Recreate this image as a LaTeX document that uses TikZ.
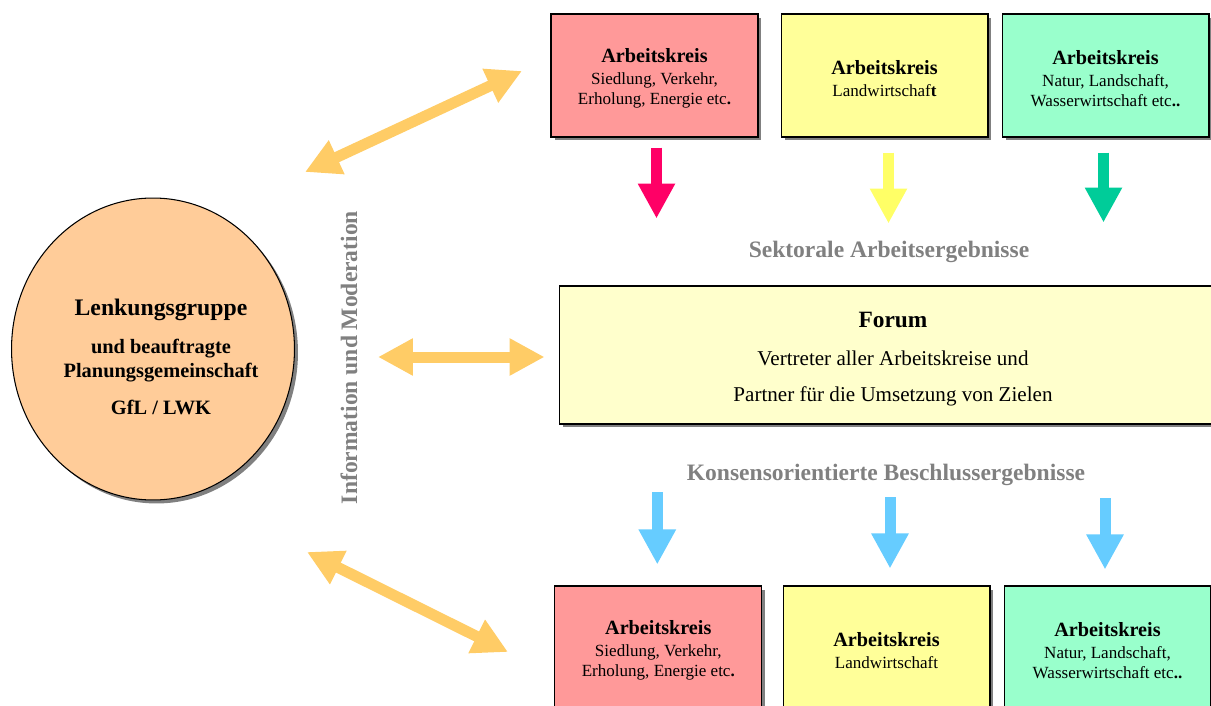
\documentclass[tikz,border=0pt]{standalone}
\usepackage{fontspec}
\setmainfont{Liberation Serif}
\usetikzlibrary{arrows.meta, calc, shadows, shapes.geometric}
\definecolor{akrot}{HTML}{FF9999}
\definecolor{akgelb}{HTML}{FFFF99}
\definecolor{akgruen}{HTML}{99FFCC}
\definecolor{forumgelb}{HTML}{FFFFCC}
\definecolor{lgorange}{HTML}{FFCC99}
\definecolor{pfeilorange}{HTML}{FFCC66}
\definecolor{pfeilrot}{HTML}{FF0066}
\definecolor{pfeilgelb}{HTML}{FFFF66}
\definecolor{pfeilgruen}{HTML}{00CC99}
\definecolor{pfeilblau}{HTML}{66CCFF}
\definecolor{schatten}{HTML}{808080}
\definecolor{textgrau}{HTML}{808080}
\tikzset{schattig/.style = {drop shadow={shadow xshift=0.07cm, shadow yshift=-0.07cm, fill=schatten, opacity=1}}}
\tikzset{akbox/.style = {draw, semithick, schattig, minimum width=4.14cm, minimum height=2.46cm, inner sep=0pt}}
\tikzset{aktext/.style = {align=center, inner sep=0pt, font=\fontsize{9.7}{11.3}\selectfont}}
\tikzset{fett pfeil/.style = {line width=0.22cm, -{Triangle[length=0.7cm, width=0.7cm]}}}
\tikzset{doppel pfeil/.style = {line width=0.22cm, pfeilorange, {Triangle[length=0.7cm, width=0.7cm]}-{Triangle[length=0.7cm, width=0.7cm]}}}
\tikzset{grautext/.style = {textgrau, font=\fontsize{13.4}{16}\selectfont\bfseries}}
\newcommand{\akkopf}[1]{{\fontsize{11.5}{13}\selectfont\bfseries #1}}

\begin{document}
\begin{tikzpicture}[x=0.02cm, y=-0.02cm]
	\useasboundingbox (0,0) rectangle (1211,706);

	% Lenkungsgruppe
	\node[ellipse, draw, semithick, fill=lgorange, schattig, minimum width=5.66cm, minimum height=6.04cm] (lg) at (153,349) {};
	\node[align=center, font=\fontsize{11.6}{14.2}\selectfont\bfseries] (lgtext) at ($(lg)+(8,8)$)
		{{\fontsize{13.5}{16}\selectfont Lenkungsgruppe}\\[7.3pt] und beauftragte\\ Planungsgemeinschaft\\[6.8pt] GfL / LWK};
	\node[grautext, rotate=90] (infomod) at (349,357.5) {Information und Moderation};

	% Arbeitskreise oben
	\node[akbox, fill=akrot] (ak1o) at (654.5,75.5) {};
	\node[akbox, fill=akgelb] (ak2o) at (884.5,75.5) {};
	\node[akbox, fill=akgruen] (ak3o) at (1105.5,75.5) {};
	\node[aktext] (ak1o-t) at ($(ak1o)+(0,3)$) {\akkopf{Arbeitskreis}\\[1.2pt] Siedlung, Verkehr,\\ Erholung, Energie etc\textbf{.}};
	\node[aktext] (ak2o-t) at ($(ak2o)+(0,3)$) {\akkopf{Arbeitskreis}\\[1.2pt] Landwirtschaf\textbf{t}};
	\node[aktext] (ak3o-t) at ($(ak3o)+(0,3)$) {\akkopf{Arbeitskreis}\\[1.2pt] Natur, Landschaft,\\ Wasserwirtschaft etc\textbf{..}};

	\draw[fett pfeil, pfeilrot]	($(ak1o.south)+(2,10)$) --++ (0,71);
	\draw[fett pfeil, pfeilgelb]	($(ak2o.south)+(4,15)$) --++ (0,71);
	\draw[fett pfeil, pfeilgruen]	($(ak3o.south)+(-2,15)$) --++ (0,70);

	\node[grautext, anchor=base] (sektoral) at (889,257.5) {Sektorale Arbeitsergebnisse};

	% Forum
	\node[draw, semithick, fill=forumgelb, schattig, minimum width=13.36cm, minimum height=2.76cm] (forum) at (893,355) {};
	\node[align=center, font=\fontsize{12}{20.4}\selectfont] (forum-t) at ($(forum)+(0,4)$)
		{{\fontsize{13.3}{16}\selectfont\bfseries Forum}\\[1.1pt] Vertreter aller Arbeitskreise und\\ Partner für die Umsetzung von Zielen};

	\node[grautext, anchor=base] (konsens) at (886,480.5) {Konsensorientierte Beschlussergebnisse};

	% Arbeitskreise unten
	\node[akbox, fill=akrot] (ak1u) at (658.3,647.5) {};
	\node[akbox, fill=akgelb] (ak2u) at (886.5,647.5) {};
	\node[akbox, fill=akgruen] (ak3u) at (1107.5,647.5) {};
	\node[aktext] (ak1u-t) at ($(ak1u)+(0,3)$) {\akkopf{Arbeitskreis}\\[1.2pt] Siedlung, Verkehr,\\ Erholung, Energie etc\textbf{.}};
	\node[aktext] (ak2u-t) at ($(ak2u)+(0,3)$) {\akkopf{Arbeitskreis}\\[1.2pt] Landwirtschaft};
	\node[aktext] (ak3u-t) at ($(ak3u)+(0,3)$) {\akkopf{Arbeitskreis}\\[1.2pt] Natur, Landschaft,\\ Wasserwirtschaft etc\textbf{..}};

	\draw[fett pfeil, pfeilblau]	($(ak1u.north)+(-1,-93)$) --++ (0,72);
	\draw[fett pfeil, pfeilblau]	($(ak2u.north)+(3.5,-88)$) --++ (0,71);
	\draw[fett pfeil, pfeilblau]	($(ak3u.north)+(-2.5,-87)$) --++ (0,71);

	% Information und Moderation
	\coordinate (io1) at (305,172);
	\coordinate (io2) at (522,71);
	\coordinate (im1) at (378,357);
	\coordinate (iu1) at (307,552);
	\coordinate (iu2) at (508,652);
	\draw[doppel pfeil]	(io1) -- (io2);
	\draw[doppel pfeil]	(im1) -- ($(forum.west)+(-14,2)$);
	\draw[doppel pfeil]	(iu1) -- (iu2);
\end{tikzpicture}
\end{document}
